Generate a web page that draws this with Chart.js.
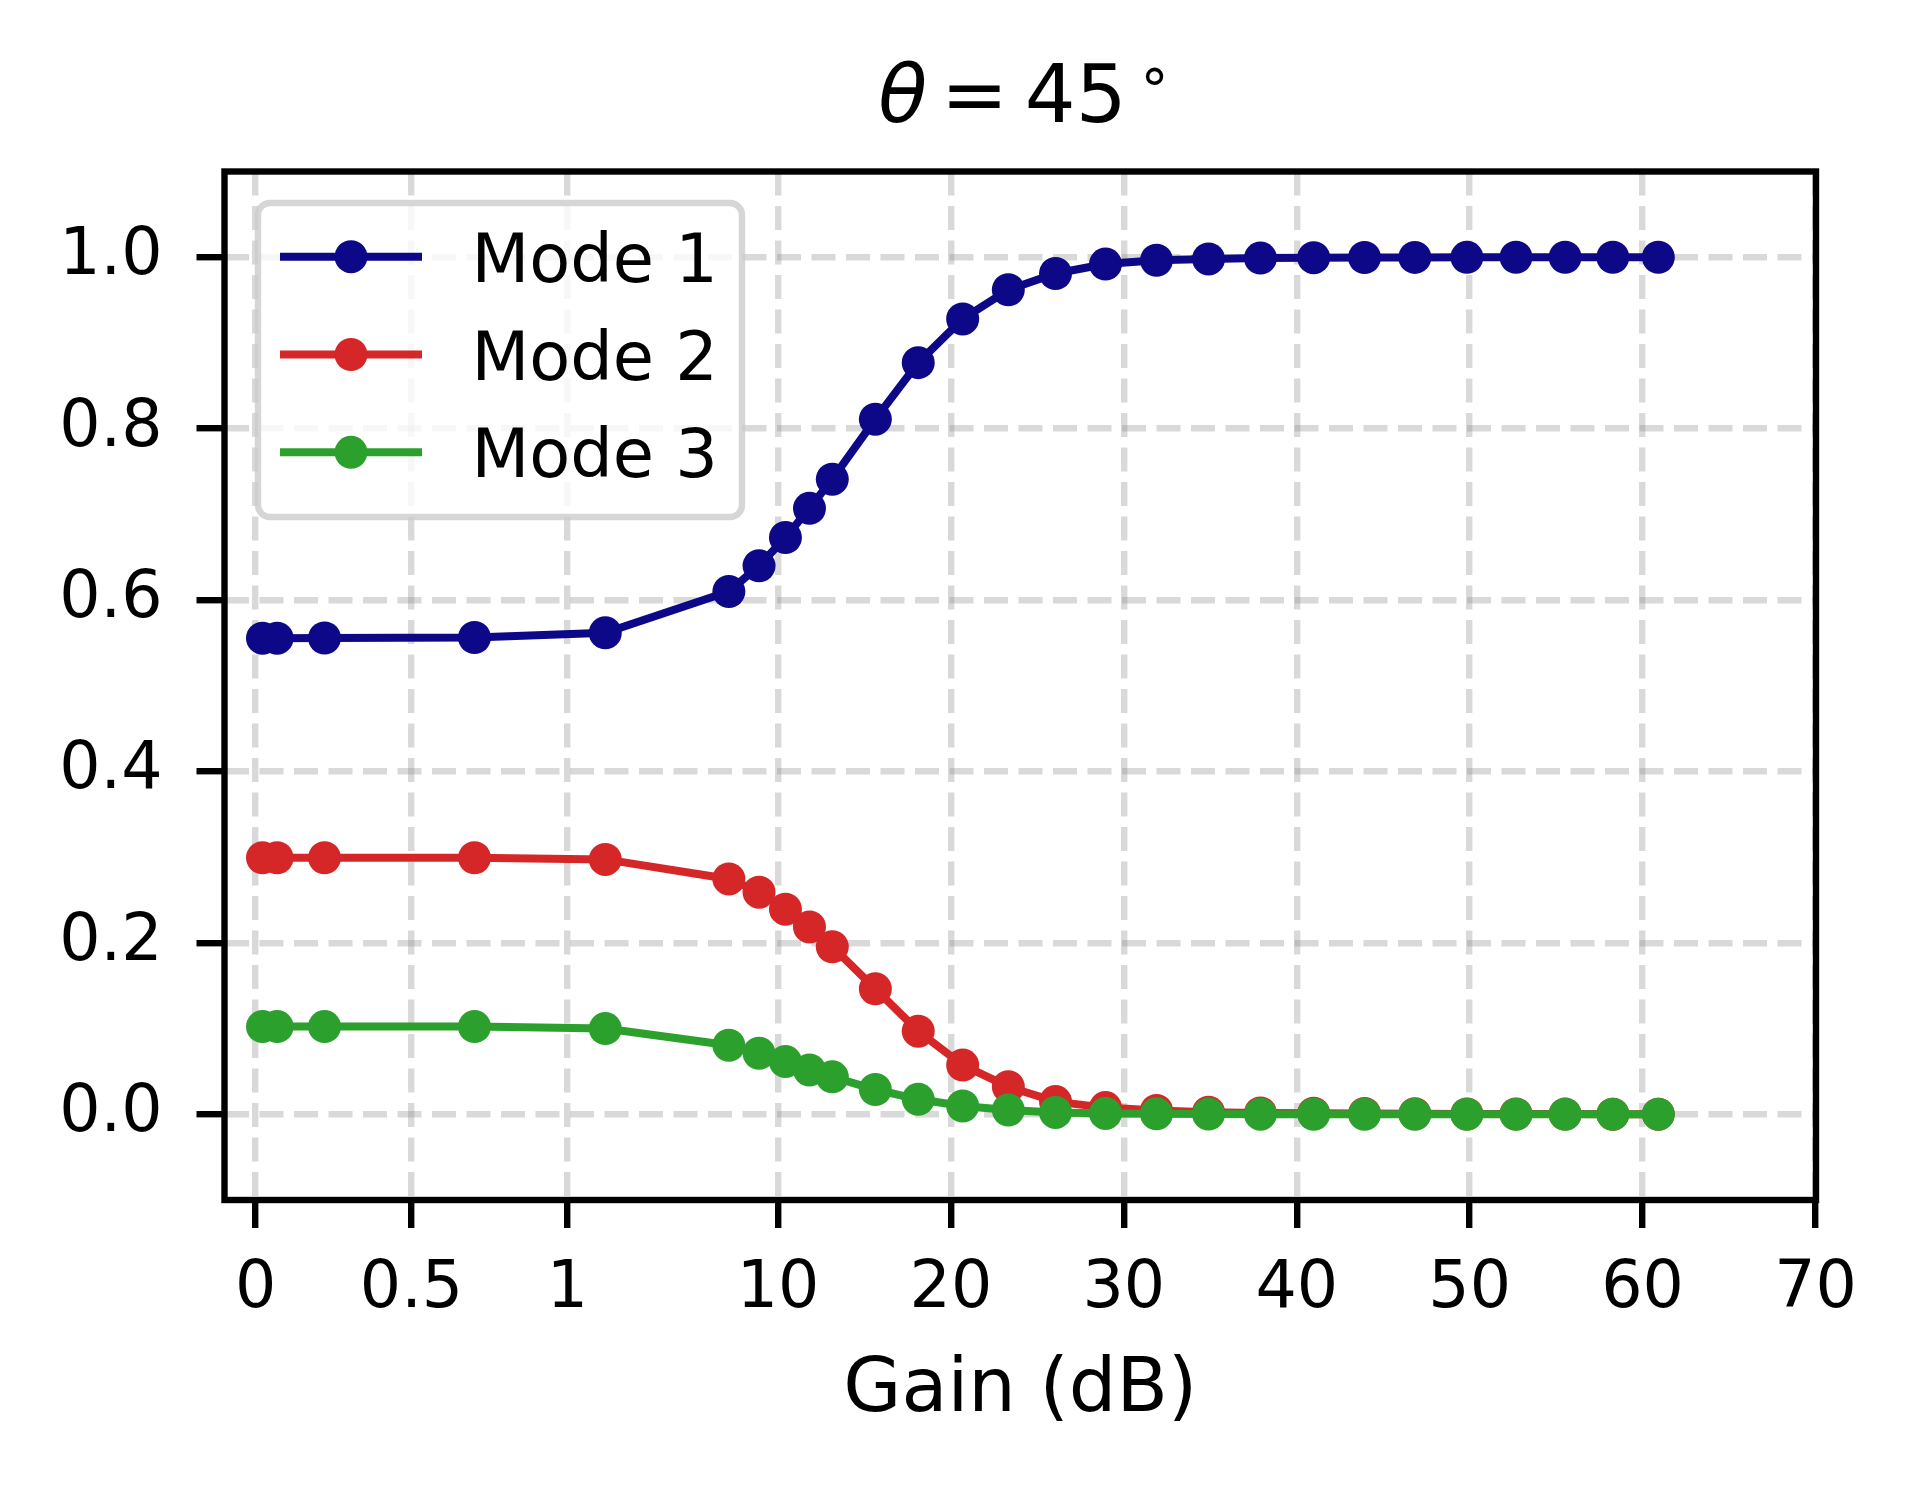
<!DOCTYPE html>
<html>
<head>
<meta charset="utf-8">
<script src="https://cdn.jsdelivr.net/npm/chart.js@4.4.1/dist/chart.umd.min.js"></script>
<style>
html,body{margin:0;padding:0;background:#fff;overflow:hidden}
canvas{display:block}
</style>
</head>
<body>
<canvas id="c" width="1917" height="1489"></canvas>
<script>
// ---------------- data ----------------
const gainDb = [0.022, 0.069, 0.221, 0.702, 2.62, 7.90, 9.19, 10.43, 11.82, 13.14, 15.63, 18.11, 20.68, 23.32, 26.05, 28.94, 31.89, 34.90, 37.90, 40.98, 43.92, 46.83, 49.84, 52.68, 55.52, 58.28, 60.91];
const mode1 = [0.5555, 0.5555, 0.5557, 0.5563, 0.5617, 0.610, 0.640, 0.673, 0.707, 0.741, 0.811, 0.877, 0.928, 0.962, 0.981, 0.992, 0.9965, 0.998, 0.999, 0.9995, 0.9997, 0.9998, 0.9999, 1.0, 1.0, 1.0, 1.0];
const mode2 = [0.2993, 0.2993, 0.2993, 0.2993, 0.2974, 0.2746, 0.2592, 0.2393, 0.2186, 0.1955, 0.1464, 0.0970, 0.0574, 0.0322, 0.0148, 0.0078, 0.0045, 0.0025, 0.0015, 0.0012, 0.0010, 0.0006, 0.0004, 0.0003, 0.0002, 0.0001, 0.0001];
const mode3 = [0.1023, 0.1023, 0.1023, 0.1023, 0.1000, 0.0806, 0.0712, 0.0615, 0.0517, 0.0437, 0.0289, 0.0175, 0.0097, 0.0050, 0.0022, 0.0010, 0.0005, 0.0002, 0.0001, 0.0, 0.0, 0.0, 0.0, 0.0, 0.0, 0.0, 0.0];
const seriesLabels = ['Mode 1', 'Mode 2', 'Mode 3'];
const seriesColors = ['#0d0887', '#d62728', '#2ca02c'];
const xTickValues = [0, 0.5, 1, 10, 20, 30, 40, 50, 60, 70];
const xTickLabels = ['0', '0.5', '1', '10', '20', '30', '40', '50', '60', '70'];
const yTickValues = [0, 0.2, 0.4, 0.6, 0.8, 1.0];
const yTickLabels = ['0.0', '0.2', '0.4', '0.6', '0.8', '1.0'];
const xAxisTitle = 'Gain (dB)';
const titleParts = ['\u03B8', '=', '45', '\u2218'];

// ---------------- broken x axis (0-1 stretched, 1-10 compressed, then linear) ----------------
const SEG_A = 18.03, SEG_B = 12.18;
function fwd(v) {
  if (v <= 1) return v * SEG_A;
  if (v <= 10) return SEG_A + (v - 1) / 9 * SEG_B;
  return SEG_A + SEG_B + (v - 10);
}
function inv(u) {
  if (u <= SEG_A) return u / SEG_A;
  if (u <= SEG_A + SEG_B) return 1 + (u - SEG_A) / SEG_B * 9;
  return 10 + (u - SEG_A - SEG_B);
}
class BrokenScale extends Chart.LinearScale {
  getPixelForValue(v) {
    if (v === null || v === undefined || isNaN(v)) return NaN;
    return super.getPixelForValue(fwd(v));
  }
  getValueForPixel(p) { return inv(super.getValueForPixel(p)); }
}
BrokenScale.id = 'broken';
BrokenScale.defaults = {};
Chart.register(BrokenScale);

const FONT = 'DejaVu Sans';
const PT = 8; // px per point

const datasets = [mode1, mode2, mode3].map((vals, i) => ({
  label: seriesLabels[i],
  data: gainDb.map((g, k) => ({x: g, y: vals[k]})),
  borderColor: seriesColors[i],
  backgroundColor: seriesColors[i],
  pointBackgroundColor: seriesColors[i],
  pointBorderColor: seriesColors[i],
  pointBorderWidth: 0,
  pointRadius: 16.5,
  pointHoverRadius: 16.5,
  borderWidth: 8,
  tension: 0,
  fill: false,
  order: 3 - i
}));

const gridCommon = {
  color: 'rgba(128,128,128,0.3)',
  lineWidth: 0.8 * PT,
  tickColor: '#000',
  tickWidth: 0.8 * PT,
  tickLength: 3.5 * PT,
  tickBorderDash: [],
  drawTicks: true
};

const decorPlugin = {
  id: 'decor',
  afterDatasetsDraw(chart) {
    const {ctx, chartArea: a} = chart;
    ctx.save();
    ctx.strokeStyle = '#000';
    ctx.lineWidth = 0.8 * PT;
    ctx.lineJoin = 'miter';
    ctx.setLineDash([]);
    ctx.strokeRect(a.left, a.top, a.right - a.left, a.bottom - a.top);
    ctx.restore();
  },
  afterDraw(chart) {
    const {ctx, chartArea: a} = chart;
    ctx.save();
    // ---- legend ----
    const bx = a.left + 33.5, by = a.top + 31.5, bw = 484, bh = 314, r = 12;
    ctx.beginPath();
    ctx.moveTo(bx + r, by);
    ctx.lineTo(bx + bw - r, by);
    ctx.arcTo(bx + bw, by, bx + bw, by + r, r);
    ctx.lineTo(bx + bw, by + bh - r);
    ctx.arcTo(bx + bw, by + bh, bx + bw - r, by + bh, r);
    ctx.lineTo(bx + r, by + bh);
    ctx.arcTo(bx, by + bh, bx, by + bh - r, r);
    ctx.lineTo(bx, by + r);
    ctx.arcTo(bx, by, bx + r, by, r);
    ctx.closePath();
    ctx.fillStyle = 'rgba(255,255,255,0.8)';
    ctx.fill();
    ctx.lineWidth = 0.8 * PT;
    ctx.strokeStyle = 'rgba(204,204,204,0.8)';
    ctx.stroke();
    chart.data.datasets.forEach((ds, i) => {
      const yRow = a.top + 85.2 + i * 97.8;
      ctx.strokeStyle = ds.borderColor;
      ctx.lineWidth = 8;
      ctx.lineCap = 'butt';
      ctx.beginPath();
      ctx.moveTo(a.left + 55.5, yRow);
      ctx.lineTo(a.left + 197.5, yRow);
      ctx.stroke();
      ctx.fillStyle = ds.borderColor;
      ctx.beginPath();
      ctx.arc(a.left + 126.5, yRow, 16.5, 0, Math.PI * 2);
      ctx.fill();
      ctx.fillStyle = '#000';
      ctx.font = '67px "' + FONT + '"';
      ctx.textAlign = 'left';
      ctx.textBaseline = 'alphabetic';
      const m = ctx.measureText(ds.label);
      ctx.fillText(ds.label, a.left + 253 + m.actualBoundingBoxLeft, yRow + 25);
    });
    // ---- title ----
    const cx = (a.left + a.right) / 2;
    const base = 121.7;
    const place = (txt, font, inkLeft, baseline) => {
      ctx.font = font;
      ctx.textAlign = 'left';
      ctx.textBaseline = 'alphabetic';
      const m = ctx.measureText(txt);
      ctx.fillText(txt, inkLeft + m.actualBoundingBoxLeft, baseline);
      return m;
    };
    ctx.fillStyle = '#000';
    place(titleParts[0], 'italic 80px "' + FONT + '"', cx - 141, base);
    place(titleParts[1], '80px "' + FONT + '"', cx - 71.3, base);
    place(titleParts[2], '80px "' + FONT + '"', cx + 7.5, base);
    // degree ring
    ctx.font = '56px "' + FONT + '"';
    const mr = ctx.measureText(titleParts[3]);
    ctx.fillText(titleParts[3], cx + 124.8 + mr.actualBoundingBoxLeft, 66.7 + mr.actualBoundingBoxAscent);
    ctx.restore();
  }
};

new Chart(document.getElementById('c'), {
  type: 'line',
  data: {datasets},
  options: {
    responsive: false,
    animation: false,
    devicePixelRatio: 1,
    events: [],
    layout: {padding: {top: 171.5, right: 101, left: 0, bottom: 0}},
    plugins: {legend: {display: false}, tooltip: {enabled: false}, title: {display: false}},
    scales: {
      x: {
        type: 'broken',
        min: -1.80,
        max: 90.24,
        afterBuildTicks: s => { s.ticks = xTickValues.map(v => ({value: v})); },
        afterFit: s => { s.height = 289; },
        grid: gridCommon,
        border: {display: false, dash: [24, 10.5]},
        ticks: {
          autoSkip: false, maxRotation: 0, minRotation: 0,
          color: '#000', padding: 23,
          font: {family: FONT, size: 65},
          callback: (v, i) => xTickLabels[i]
        },
        title: {
          display: true, text: xAxisTitle, color: '#000',
          font: {family: FONT, size: 75, lineHeight: 1.2},
          padding: {top: 0, bottom: 52}
        }
      },
      y: {
        type: 'linear',
        min: -0.1,
        max: 1.1,
        afterBuildTicks: s => { s.ticks = yTickValues.map(v => ({value: v})); },
        afterFit: s => { s.width = 224.5; },
        grid: gridCommon,
        border: {display: false, dash: [24, 10.5]},
        ticks: {
          autoSkip: false, color: '#000', padding: 34,
          font: {family: FONT, size: 65},
          callback: (v, i) => yTickLabels[i]
        }
      }
    }
  },
  plugins: [decorPlugin]
});
</script>
</body>
</html>
